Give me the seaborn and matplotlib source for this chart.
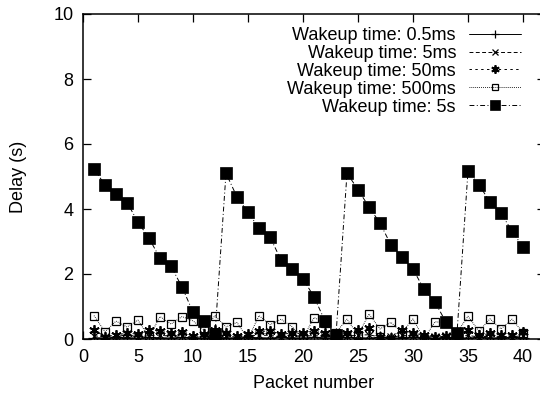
import numpy as np
import pandas as pd
import matplotlib
matplotlib.use("Agg")
import matplotlib.pyplot as plt
import seaborn as sns

# Delay per packet for each wakeup interval
packets = list(range(1, 41))

delay_05ms = [0.04, 0.03, 0.05, 0.04, 0.03, 0.05, 0.04, 0.03, 0.05, 0.04,
              0.03, 0.05, 0.04, 0.03, 0.05, 0.04, 0.03, 0.05, 0.04, 0.03,
              0.05, 0.04, 0.03, 0.05, 0.04, 0.03, 0.05, 0.04, 0.03, 0.05,
              0.04, 0.03, 0.05, 0.04, 0.03, 0.05, 0.04, 0.03, 0.05, 0.04]

delay_5ms = [0.10, 0.06, 0.08, 0.12, 0.07, 0.10, 0.12, 0.08, 0.10, 0.06,
             0.08, 0.12, 0.09, 0.06, 0.10, 0.12, 0.11, 0.07, 0.09, 0.08,
             0.11, 0.07, 0.09, 0.08, 0.12, 0.13, 0.06, 0.05, 0.11, 0.09,
             0.07, 0.06, 0.08, 0.07, 0.11, 0.06, 0.09, 0.08, 0.07, 0.10]

delay_50ms = [0.28, 0.07, 0.12, 0.18, 0.15, 0.28, 0.25, 0.20, 0.22, 0.10,
              0.15, 0.28, 0.18, 0.08, 0.16, 0.24, 0.24, 0.16, 0.17, 0.18,
              0.25, 0.17, 0.12, 0.20, 0.28, 0.33, 0.07, 0.03, 0.28, 0.18,
              0.12, 0.07, 0.08, 0.12, 0.28, 0.11, 0.17, 0.12, 0.12, 0.22]

delay_500ms = [0.72, 0.22, 0.55, 0.37, 0.58, 0.05, 0.69, 0.46, 0.69, 0.56,
               0.28, 0.72, 0.37, 0.51, 0.00, 0.72, 0.44, 0.61, 0.38, 0.02,
               0.66, 0.50, 0.20, 0.61, 0.12, 0.77, 0.31, 0.51, 0.20, 0.62,
               0.00, 0.53, 0.50, 0.20, 0.70, 0.24, 0.62, 0.31, 0.61, 0.20]

delay_5s = [5.23, 4.74, 4.46, 4.20, 3.60, 3.10, 2.49, 2.24, 1.60, 0.83,
            0.55, 0.14, 5.10, 4.37, 3.90, 3.41, 3.14, 2.43, 2.15, 1.85,
            1.30, 0.55, 0.12, 5.10, 4.60, 4.06, 3.57, 2.89, 2.52, 2.15,
            1.53, 1.13, 0.52, 0.18, 5.17, 4.74, 4.22, 3.87, 3.32, 2.83]

labels = ["Wakeup time: 0.5ms", "Wakeup time: 5ms", "Wakeup time: 50ms",
          "Wakeup time: 500ms", "Wakeup time: 5s"]

x_ticks = [0, 5, 10, 15, 20, 25, 30, 35, 40]
y_ticks = [0, 2, 4, 6, 8, 10]

sns.set_theme(style="ticks")
plt.rcParams["font.family"] = ["Liberation Sans", "DejaVu Sans"]
plt.rcParams.update({
    "text.color": "black",
    "axes.labelcolor": "black",
    "xtick.color": "black",
    "ytick.color": "black",
    "xtick.labelcolor": "black",
    "ytick.labelcolor": "black",
})

fig = plt.figure(figsize=(5.4, 3.97), dpi=100)
ax = fig.add_axes([83 / 540, 58 / 397, 462 / 540, 325 / 397])

series = [delay_05ms, delay_5ms, delay_50ms, delay_500ms, delay_5s]
styles = [
    dict(linestyle="-", marker="+", markersize=8, markeredgewidth=0.9),
    dict(linestyle=(0, (4, 2.5)), marker="x", markersize=5.5, markeredgewidth=0.9),
    dict(linestyle=(0, (2.5, 3.5)), marker=(6, 2, 0), markersize=7.5, markeredgewidth=1.3),
    dict(linestyle=(0, (0.8, 1.2)), marker="s", markersize=6.2, markeredgewidth=0.9,
         markerfacecolor="none"),
    dict(linestyle=(0, (5, 2.5, 1, 2.5)), marker="s", markersize=8.5, markeredgewidth=0.5,
         markerfacecolor="black"),
]

for values, label, st in zip(series, labels, styles):
    df = pd.DataFrame({"packet": packets, "delay": values})
    sns.lineplot(data=df, x="packet", y="delay", ax=ax, color="black",
                 linewidth=0.7, label=label, markeredgecolor="black", **st)

ax.set_xlim(0, 42)
ax.set_ylim(0, 10)
ax.set_xticks(x_ticks)
ax.set_yticks(y_ticks)
ax.set_xlabel("Packet number", fontsize=13, labelpad=7, color="black")
ax.set_ylabel("Delay (s)", fontsize=13, labelpad=19, color="black")
ax.tick_params(direction="in", length=5.8, width=0.9, labelsize=13,
               top=True, right=True, pad=7, color="black", labelcolor="black")
for sp in ax.spines.values():
    sp.set_linewidth(1.1)
    sp.set_color("black")

leg = ax.legend(loc="upper right", markerfirst=False, frameon=False,
                fontsize=13, handlelength=2.9, handletextpad=0.7,
                labelspacing=0.05, borderpad=0, borderaxespad=0,
                numpoints=1, markerscale=0.8, labelcolor="black",
                bbox_to_anchor=(521 / 540, 1 - 27 / 397),
                bbox_transform=fig.transFigure)

fig.savefig("out.png", dpi=100)
